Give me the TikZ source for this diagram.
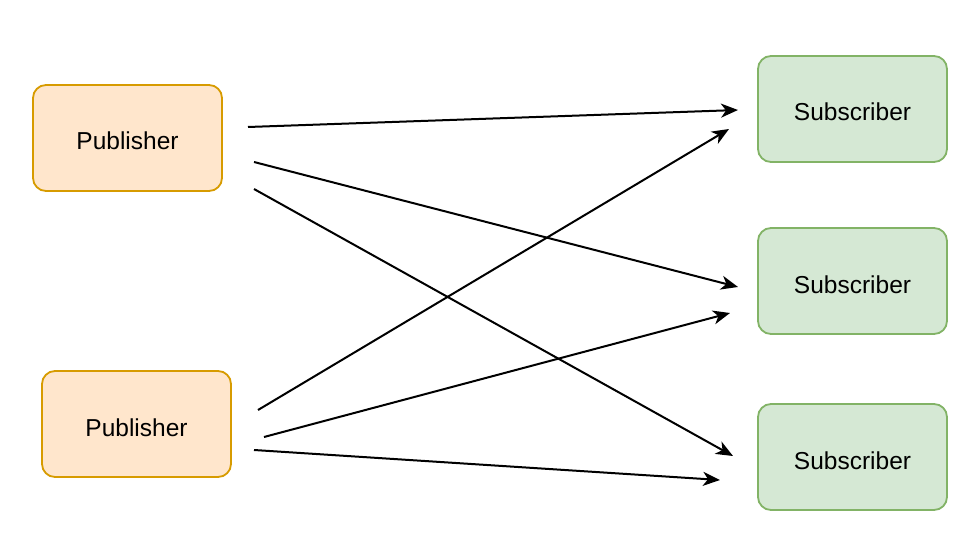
\documentclass[tikz,border=0pt]{standalone}
\usepackage{fontspec}
\setmainfont{Liberation Sans}
\usetikzlibrary{arrows.meta}
\definecolor{pubfill}{HTML}{FFE6CC}
\definecolor{pubdraw}{HTML}{D79B00}
\definecolor{subfill}{HTML}{D5E8D4}
\definecolor{subdraw}{HTML}{82B366}
\tikzset{
  basebox/.style={line width=1.8pt, rounded corners=13pt,
    minimum width=189pt, minimum height=106pt, inner sep=0pt,
    text height=24pt, text depth=0pt,
    font=\fontsize{24.5pt}{29pt}\selectfont},
  pubbox/.style={basebox, draw=pubdraw, fill=pubfill},
  subbox/.style={basebox, draw=subdraw, fill=subfill},
  conn/.style={line width=2pt, -{Stealth[length=17pt, width=14pt, inset=5pt]}}
}
\begin{document}
\begin{tikzpicture}[x=1pt, y=-1pt]
\useasboundingbox (0,0) rectangle (980,548);
\node[pubbox] (p1) at (127.5,138) {Publisher};
\node[pubbox] (p2) at (136.5,424) {Publisher};
\node[subbox] (s1) at (852.5,109) {Subscriber};
\node[subbox] (s2) at (852.5,281) {Subscriber};
\node[subbox] (s3) at (852.5,457) {Subscriber};
\coordinate (a1) at (248,127);
\coordinate (b1) at (738,110);
\coordinate (a2) at (254,162);
\coordinate (b2) at (738,287);
\coordinate (a3) at (254,189);
\coordinate (b3) at (733,456);
\coordinate (a4) at (258,410);
\coordinate (b4) at (729,129);
\coordinate (a5) at (264,437);
\coordinate (b5) at (730,313);
\coordinate (a6) at (254,450);
\coordinate (b6) at (720,480);
\draw[conn] (a1) -- (b1);
\draw[conn] (a2) -- (b2);
\draw[conn] (a3) -- (b3);
\draw[conn] (a4) -- (b4);
\draw[conn] (a5) -- (b5);
\draw[conn] (a6) -- (b6);
\end{tikzpicture}
\end{document}
